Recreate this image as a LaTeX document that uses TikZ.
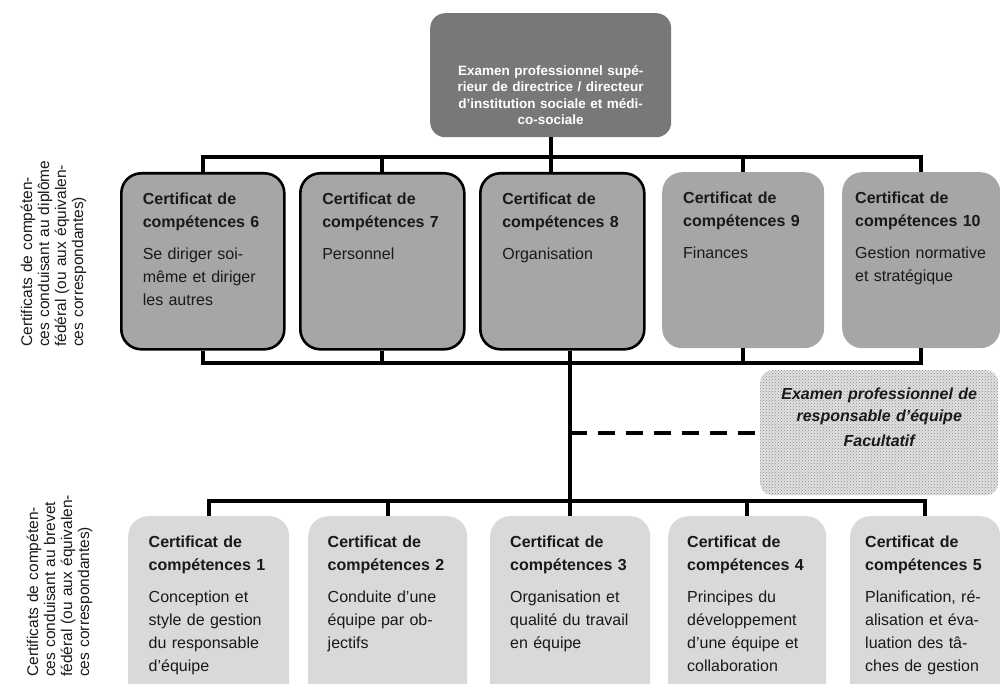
\documentclass[tikz,border=0pt]{standalone}
\usepackage{fontspec}
\setmainfont{Liberation Sans}
\usetikzlibrary{patterns}

\begin{document}
\begin{tikzpicture}[x=1pt,y=-1pt,
	every node/.style={inner sep=0pt,text=black!90,font=\fontsize{16}{23}\selectfont},
	cert/.style={anchor=north west,rounded corners=20pt,align=left,text width=120pt,text height=31pt,text depth=145pt},
	upper/.style={cert,fill=black!35},
	framed/.style={upper,draw=black,line width=2.6pt},
	lower/.style={cert,fill=black!15,text depth=160pt},
	head/.style={anchor=north west,rounded corners=15pt,fill=black!53,text=white,align=center,text width=215pt,minimum width=241pt,text height=62pt,text depth=62pt,font=\bfseries\fontsize{13.5}{16.5}\selectfont},
	exam/.style={anchor=north west,rounded corners=12pt,preaction={fill=black!12},pattern=crosshatch dots,pattern color=black!45,align=center,text width=215pt,minimum width=238pt,text height=29pt,text depth=96pt,font=\bfseries\itshape\fontsize{16}{22}\selectfont},
	side/.style={rotate=90,anchor=base west,align=left,text width=200pt,font=\fontsize{15.5}{17}\selectfont},
	link/.style={line width=4pt},
	dashlink/.style={link,dash pattern=on 17pt off 11pt}]
\useasboundingbox (0,0) rectangle (1000,684);

\node[head]								(top)		at (430,13)		{Examen professionnel supé-\\rieur de directrice / directeur\\d’institution sociale et médi-\\co-sociale};

\node[framed,minimum width=163pt]		(c6)		at (120,172)	{\textbf{Certificat de\\compétences 6}\\[9pt]Se diriger soi-\\même et diriger\\les autres};
\node[framed,minimum width=164pt]		(c7)		at (299,172)	{\textbf{Certificat de\\compétences 7}\\[9pt]Personnel};
\node[framed,minimum width=164pt]		(c8)		at (479,172)	{\textbf{Certificat de\\compétences 8}\\[9pt]Organisation};
\node[upper,minimum width=162pt]		(c9)		at (662,172)	{\textbf{Certificat de\\compétences 9}\\[9pt]Finances};
\node[upper,minimum width=158pt,text width=132pt]	(c10)	at (842,172)	{\textbf{Certificat de\\compétences 10}\\[9pt]Gestion normative\\et stratégique};

\node[exam]								(opt)		at (760,370)	{Examen professionnel de\\responsable d'équipe\\[3pt]Facultatif};

\node[lower,minimum width=161pt]		(c1)		at (128,516)	{\textbf{Certificat de\\compétences 1}\\[9pt]Conception et\\style de gestion\\du responsable\\d’équipe};
\node[lower,minimum width=159pt]		(c2)		at (308,516)	{\textbf{Certificat de\\compétences 2}\\[9pt]Conduite d’une\\équipe par ob-\\jectifs};
\node[lower,minimum width=160pt]		(c3)		at (490,516)	{\textbf{Certificat de\\compétences 3}\\[9pt]Organisation et\\qualité du travail\\en équipe};
\node[lower,minimum width=158pt]		(c4)		at (668,516)	{\textbf{Certificat de\\compétences 4}\\[9pt]Principes du\\développement\\d’une équipe et\\collaboration};
\node[lower,minimum width=150pt]		(c5)		at (850,516)	{\textbf{Certificat de\\compétences 5}\\[9pt]Planification, ré-\\alisation et éva-\\luation des tâ-\\ches de gestion};

\node[side]								(federal)	at (32,347)		{Certificats de compéten-\\ces conduisant au diplôme\\fédéral (ou aux équivalen-\\ces correspondantes)};
\node[side]								(brevet)	at (38,677)		{Certificats de compéten-\\ces conduisant au brevet\\fédéral (ou aux équivalen-\\ces correspondantes)};

\coordinate								(upbar)		at (0,157);
\coordinate								(midbar)	at (0,363);
\coordinate								(lowbar)	at (0,501);

\draw[link]		(c6.north)			|- (c10.north |- upbar) -- (c10.north);
\draw[link]		(c7.north)			-- (c7.north |- upbar);
\draw[link]		(top.south)			-- (top.south |- c8.north);
\draw[link]		(c9.north)			-- (c9.north |- upbar);

\draw[link]		(c6.south)			|- (c10.south |- midbar) -- (c10.south);
\draw[link]		(c7.south)			-- (c7.south |- midbar);
\draw[link]		(c9.south)			-- (c9.south |- midbar);
\draw[link]		(c3.north |- c8.south)	-- (c3.north);

\draw[link]		(c1.north)			|- (c5.north |- lowbar) -- (c5.north);
\draw[link]		(c2.north)			-- (c2.north |- lowbar);
\draw[link]		(c4.north)			-- (c4.north |- lowbar);
\draw[dashlink]	(opt.west -| c3.north)	-- (opt.west);
\end{tikzpicture}
\end{document}
